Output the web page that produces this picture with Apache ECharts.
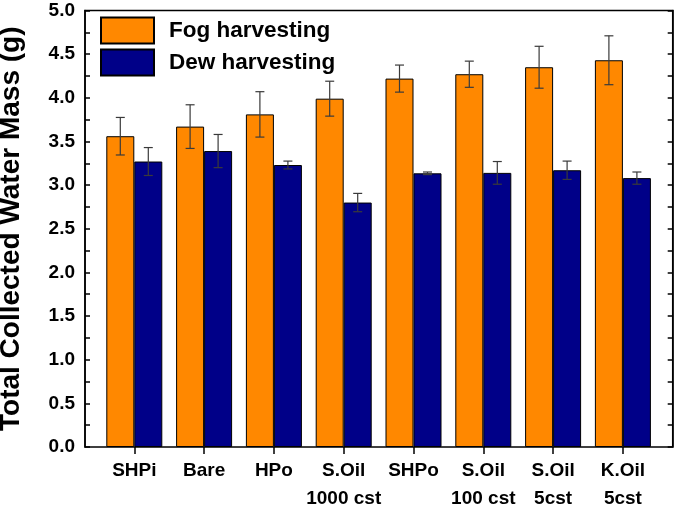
<!DOCTYPE html>
<html>
<head>
<meta charset="utf-8">
<script src="https://cdn.jsdelivr.net/npm/echarts@6/dist/echarts.min.js"></script>
<style>
html,body{margin:0;padding:0;background:#fff;}
#chart{width:675px;height:505px;}
</style>
</head>
<body>
<div id="chart"></div>
<script>
const categories = ['SHPi', 'Bare', 'HPo', 'S.Oil\n1000 cst', 'SHPo', 'S.Oil\n100 cst', 'S.Oil\n5cst', 'K.Oil\n5cst'];
const fogValues = [3.56, 3.67, 3.81, 3.99, 4.22, 4.27, 4.35, 4.43];
const fogErrors = [0.215, 0.25, 0.26, 0.20, 0.155, 0.15, 0.24, 0.28];
const dewValues = [3.27, 3.39, 3.23, 2.80, 3.135, 3.14, 3.17, 3.08];
const dewErrors = [0.16, 0.19, 0.045, 0.105, 0.015, 0.13, 0.105, 0.07];
const yTicks = ['0.0','0.5','1.0','1.5','2.0','2.5','3.0','3.5','4.0','4.5','5.0'];

const FONT = '"Liberation Sans", Arial, sans-serif';
const BAR_W = 28;

function errorSeries(values, errors, side) {
  return {
    type: 'custom',
    xAxisIndex: 1,
    yAxisIndex: 2,
    z: 5,
    silent: true,
    data: values.map((v, i) => [i, v, errors[i]]),
    renderItem: function (params, api) {
      const i = api.value(0), v = api.value(1), e = api.value(2);
      const c = api.coord([i, v]);
      const x = c[0] + side * BAR_W / 2;
      const top = api.coord([i, v + e])[1];
      const bot = api.coord([i, v - e])[1];
      const hw = 4.5;
      const style = { stroke: '#3a3a3a', lineWidth: 1.2 };
      return {
        type: 'group',
        children: [
          { type: 'line', shape: { x1: x, y1: top, x2: x, y2: bot }, style: style },
          { type: 'line', shape: { x1: x - hw, y1: top, x2: x + hw, y2: top }, style: style },
          { type: 'line', shape: { x1: x - hw, y1: bot, x2: x + hw, y2: bot }, style: style }
        ]
      };
    }
  };
}

const chart = echarts.init(document.getElementById('chart'), null, { renderer: 'canvas' });
chart.setOption({
  animation: false,
  backgroundColor: '#fff',
  textStyle: { fontFamily: FONT },
  grid: [
    { left: 85, right: 2.3, top: 10.5, bottom: 58, show: true, borderColor: '#000', borderWidth: 1.5, backgroundColor: 'transparent', outerBoundsMode: 'none', containLabel: false },
    { left: 99.4, right: 17.2, top: 10.5, bottom: 58, outerBoundsMode: 'none', containLabel: false }
  ],
  legend: {
    orient: 'vertical',
    left: 100,
    top: 16.5,
    padding: 0,
    itemWidth: 53,
    itemHeight: 26,
    itemGap: 4,
    icon: 'rect',
    textStyle: { fontSize: 22.5, fontWeight: 'bold', color: '#000', fontFamily: FONT, padding: [0, 0, 0, 10] },
    data: ['Fog harvesting', 'Dew harvesting']
  },
  xAxis: [
    { type: 'value', gridIndex: 0, show: false, min: 0, max: 1 },
    {
      type: 'category', gridIndex: 1, data: categories,
      axisLine: { show: false },
      axisTick: { show: true, alignWithLabel: true, inside: false, length: 7, lineStyle: { color: '#000', width: 1.5 } },
      axisLabel: { margin: 10, fontSize: 19, fontWeight: 'bold', color: '#000', fontFamily: FONT, lineHeight: 28, interval: 0 },
      splitLine: { show: false }
    }
  ],
  yAxis: [
    {
      type: 'value', gridIndex: 0, position: 'left', min: 0, max: 5, interval: 0.5,
      name: 'Total Collected Water Mass (g)', nameLocation: 'middle', nameGap: 60,
      nameTextStyle: { fontSize: 28, fontWeight: 'bold', color: '#000', fontFamily: FONT },
      axisLine: { show: true, lineStyle: { color: '#000', width: 1.5 } },
      axisTick: { show: true, inside: true, length: 5, lineStyle: { color: '#000', width: 1.5 } },
      minorTick: { show: true, splitNumber: 2, length: 5, lineStyle: { color: '#000', width: 1.5 } },
      axisLabel: { margin: 10, fontSize: 19, fontWeight: 'bold', color: '#000', fontFamily: FONT,
        formatter: function (v) { return yTicks[Math.round(v / 0.5)]; } },
      splitLine: { show: false }
    },
    {
      type: 'value', gridIndex: 0, position: 'right', min: 0, max: 5, interval: 0.5,
      axisLine: { show: true, lineStyle: { color: '#000', width: 1.5 } },
      axisTick: { show: true, inside: true, length: 5, lineStyle: { color: '#000', width: 1.5 } },
      minorTick: { show: true, splitNumber: 2, length: 5, lineStyle: { color: '#000', width: 1.5 } },
      axisLabel: { show: false },
      splitLine: { show: false }
    },
    { type: 'value', gridIndex: 1, min: 0, max: 5, show: false }
  ],
  series: [
    {
      name: 'Fog harvesting', type: 'bar', xAxisIndex: 1, yAxisIndex: 2,
      data: fogValues, barWidth: BAR_W, barGap: '0%',
      itemStyle: { color: '#FF8800', borderColor: '#000', borderWidth: 1 }
    },
    {
      name: 'Dew harvesting', type: 'bar', xAxisIndex: 1, yAxisIndex: 2,
      data: dewValues, barWidth: BAR_W, barGap: '0%',
      itemStyle: { color: '#000088', borderColor: '#000', borderWidth: 1 }
    },
    errorSeries(fogValues, fogErrors, -1),
    errorSeries(dewValues, dewErrors, 1)
  ]
});
</script>
</body>
</html>
